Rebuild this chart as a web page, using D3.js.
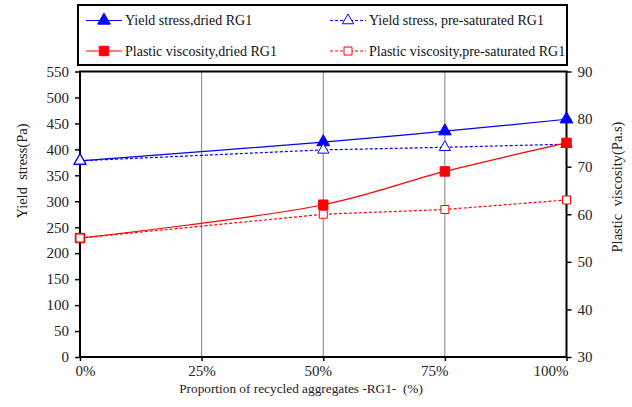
<!DOCTYPE html>
<html>
<head>
<meta charset="utf-8">
<script src="https://cdn.jsdelivr.net/npm/d3@7/dist/d3.min.js"></script>
<style>
  html, body { margin: 0; padding: 0; background: #fff; }
  svg { display: block; }
  svg text { font-family: "Liberation Serif", "Times New Roman", serif; }
</style>
</head>
<body>
<svg id="chart" width="632" height="407"></svg>
<script>
// Proportion of recycled aggregates RG1 (%)
const proportions = [0, 50, 75, 100];
const xTicks = [0, 25, 50, 75, 100];

// Yield stress (Pa), left axis
const yieldDried = [378, 414, 435, 458];
const yieldPreSaturated = [378, 399, 404, 410];

// Plastic viscosity (Pa.s), right axis
const viscosityDried = [55, 62, 69, 75];
const viscosityPreSaturated = [55, 60, 61, 63];

const yieldTicks = d3.range(0, 551, 50);
const viscosityTicks = d3.range(30, 91, 10);

const series = [
  { name: "Yield stress,dried RG1", values: yieldDried, axis: "left", color: "#0000ff", symbol: d3.symbolTriangle, filled: true, dashed: false, smooth: true },
  { name: "Yield stress, pre-saturated RG1", values: yieldPreSaturated, axis: "left", color: "#0000ff", symbol: d3.symbolTriangle, filled: false, dashed: true, smooth: false },
  { name: "Plastic viscosity,dried RG1", values: viscosityDried, axis: "right", color: "#ff0000", symbol: d3.symbolSquare, filled: true, dashed: false, smooth: true },
  { name: "Plastic viscosity,pre-saturated RG1", values: viscosityPreSaturated, axis: "right", color: "#ff0000", symbol: d3.symbolSquare, filled: false, dashed: true, smooth: false }
];

const svg = d3.select("#chart");
const plot = { left: 80, right: 566.5, top: 71.5, bottom: 357 };

const x = d3.scaleLinear().domain([0, 100]).range([plot.left, plot.right]);
// category labels sit on a slightly narrower band than the plot
const xLabel = d3.scaleLinear().domain([0, 100]).range([85, 550.5]);
const yLeft = d3.scaleLinear().domain([0, 550]).range([plot.bottom, plot.top]);
const yRight = d3.scaleLinear().domain([30, 90]).range([plot.bottom, plot.top]);

// vertical grid lines
svg.append("g")
  .selectAll("line")
  .data(xTicks.slice(1, -1))
  .join("line")
  .attr("x1", d => x(d)).attr("x2", d => x(d))
  .attr("y1", plot.top).attr("y2", plot.bottom)
  .attr("stroke", "#808080").attr("stroke-width", 1);

// axes
const tickFont = 15;
const gx = svg.append("g")
  .attr("transform", `translate(0,${plot.bottom})`)
  .call(d3.axisBottom(x).tickValues(xTicks).tickFormat(d => d + "%").tickSize(4).tickPadding(4));
gx.selectAll(".tick text").attr("x", d => xLabel(d) - x(d));
const gl = svg.append("g")
  .attr("transform", `translate(${plot.left},0)`)
  .call(d3.axisLeft(yLeft).tickValues(yieldTicks).tickSize(5).tickPadding(6));
const gr = svg.append("g")
  .attr("transform", `translate(${plot.right},0)`)
  .call(d3.axisRight(yRight).tickValues(viscosityTicks).tickSize(5).tickPadding(6));

[gx, gl, gr].forEach(g => {
  g.attr("font-family", null).attr("font-size", null);
  g.select(".domain").remove();
  g.selectAll(".tick line").attr("stroke", "#000").attr("stroke-width", 1.5);
  g.selectAll(".tick text")
    .attr("fill", "#222")
    .style("font-size", tickFont + "px");
});

// plot frame
svg.append("rect")
  .attr("x", plot.left).attr("y", plot.top)
  .attr("width", plot.right - plot.left).attr("height", plot.bottom - plot.top)
  .attr("fill", "none").attr("stroke", "#000").attr("stroke-width", 2);

// series lines
series.forEach(s => {
  const yScale = s.axis === "left" ? yLeft : yRight;
  const line = d3.line()
    .x((d, i) => x(proportions[i]))
    .y(d => yScale(d))
    .curve(s.smooth ? d3.curveCatmullRom : d3.curveLinear);
  svg.append("path")
    .datum(s.values)
    .attr("d", line)
    .attr("fill", "none")
    .attr("stroke", s.color)
    .attr("stroke-width", 1.2)
    .attr("stroke-dasharray", s.dashed ? "3,2" : null);
});

// markers
function markerPath(s) {
  const isTri = s.symbol === d3.symbolTriangle;
  const size = s.filled ? (isTri ? 70 : 90) : (isTri ? 55 : 64);
  return d3.symbol().type(s.symbol).size(size)();
}
series.forEach(s => {
  const yScale = s.axis === "left" ? yLeft : yRight;
  svg.append("g")
    .selectAll("path")
    .data(s.values)
    .join("path")
    .attr("d", markerPath(s))
    .attr("transform", (d, i) => `translate(${x(proportions[i])},${yScale(d)})`)
    .attr("fill", s.filled ? s.color : "#fff")
    .attr("stroke", s.color)
    .attr("stroke-width", 1);
});

// axis titles
svg.append("text")
  .attr("transform", `translate(27,171) rotate(-90)`)
  .attr("text-anchor", "middle")
  .attr("fill", "#222")
  .style("font-size", "14.5px")
  .attr("xml:space", "preserve")
  .text("Yield  stress(Pa)");
svg.append("text")
  .attr("transform", `translate(622,187) rotate(-90)`)
  .attr("text-anchor", "middle")
  .attr("fill", "#222")
  .style("font-size", "14.5px")
  .attr("xml:space", "preserve")
  .text("Plastic  viscosity(Pa.s)");
svg.append("text")
  .attr("x", 301).attr("y", 393)
  .attr("text-anchor", "middle")
  .attr("fill", "#222")
  .style("font-size", "13.3px")
  .attr("xml:space", "preserve")
  .text("Proportion of recycled aggregates -RG1-  (%)");

// legend
const legend = svg.append("g");
legend.append("rect")
  .attr("x", 78).attr("y", 5).attr("width", 489).attr("height", 60)
  .attr("fill", "#fff").attr("stroke", "#000").attr("stroke-width", 2);
const legendPos = [
  { x: 86, y: 20.5 }, { x: 330, y: 20.5 },
  { x: 86, y: 51 }, { x: 330, y: 51 }
];
series.forEach((s, i) => {
  const p = legendPos[i];
  const g = legend.append("g").attr("transform", `translate(${p.x},${p.y})`);
  g.append("line")
    .attr("x1", 0).attr("x2", 36).attr("y1", 0).attr("y2", 0)
    .attr("stroke", s.color).attr("stroke-width", 1.2)
    .attr("stroke-dasharray", s.dashed ? "3,2" : null);
  g.append("path")
    .attr("d", markerPath(s))
    .attr("transform", "translate(18,0)")
    .attr("fill", s.filled ? s.color : "#fff")
    .attr("stroke", s.color).attr("stroke-width", 1);
  g.append("text")
    .attr("x", 39).attr("y", 4.5)
    .attr("fill", "#111")
    .style("font-size", "14px")
    .text(s.name);
});
</script>
</body>
</html>
